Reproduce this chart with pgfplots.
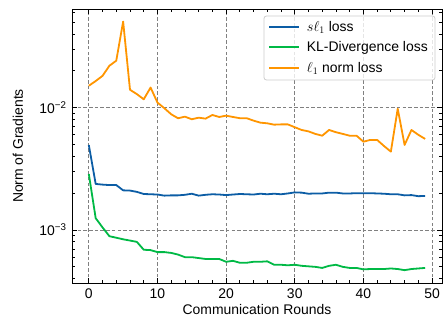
\documentclass[border=0pt]{standalone}
\usepackage{fontspec}
\setmainfont{Liberation Sans}
\usepackage{pgfplots}
\pgfplotsset{compat=1.18}
\usetikzlibrary{calc}
\definecolor{cblue}{HTML}{0C5DA5}
\definecolor{cgreen}{HTML}{00B945}
\definecolor{corange}{HTML}{FF9500}
\begin{document}
\begin{tikzpicture}[font=\fontsize{14}{17}\selectfont]
\begin{axis}[
  scale only axis, width=370bp, height=274bp,
  ymode=log,
  xmin=-2.45, xmax=51.45,
  ymin=3.69e-4, ymax=0.064,
  font=\fontsize{14}{17}\selectfont,
  /pgf/number format/assume math mode=true,
  xtick={0,10,20,30,40,50},
  minor x tick num=4,
  ytick={1e-3,1e-2},
  yticklabels={10\textsuperscript{−3},10\textsuperscript{−2}},
  minor ytick={4e-4,5e-4,6e-4,7e-4,8e-4,9e-4,2e-3,3e-3,4e-3,5e-3,6e-3,7e-3,8e-3,9e-3,2e-2,3e-2,4e-2,5e-2,6e-2},
  tick align=inside,
  major tick length=5.3bp, minor tick length=2.8bp,
  every tick/.style={black, line width=0.8bp},
  axis line style={line width=0.9bp},
  xmajorgrids, ymajorgrids,
  major grid style={gray, line width=0.8bp, dash pattern=on 3.5bp off 2.2bp},
  xlabel={Communication Rounds},
  ylabel={Norm of Gradients},
  xlabel style={at={(axis description cs:0.5,0)}, anchor=center, yshift=-27bp},
  ylabel style={at={(axis description cs:0,0.5)}, anchor=center, yshift=54bp},
  xticklabel style={yshift=-2bp},
  yticklabel style={xshift=-2bp},
  every axis plot/.append style={line width=1.8bp, line join=round},
]
\addplot[draw=cblue] coordinates {
(0,0.00495)(1,0.00238)(2,0.00235)(3,0.00233)(4,0.00233)(5,0.00211)(6,0.00210)(7,0.00205)(8,0.00197)(9,0.00196)
(10,0.00195)(11,0.00191)(12,0.00192)(13,0.00192)(14,0.00194)(15,0.00198)(16,0.00191)(17,0.00194)(18,0.00196)(19,0.00195)
(20,0.00193)(21,0.00195)(22,0.00197)(23,0.00196)(24,0.00195)(25,0.00198)(26,0.00196)(27,0.00198)(28,0.00196)(29,0.00199)
(30,0.00203)(31,0.00202)(32,0.00198)(33,0.00199)(34,0.00199)(35,0.00202)(36,0.00202)(37,0.00199)(38,0.00199)(39,0.00200)
(40,0.00200)(41,0.00200)(42,0.00199)(43,0.00198)(44,0.00196)(45,0.00196)(46,0.00192)(47,0.00193)(48,0.00189)(49,0.00190)
};
\addplot[draw=cgreen] coordinates {
(0,0.00287)(1,0.00125)(2,0.00105)(3,0.00089)(4,0.000865)(5,0.00084)(6,0.00082)(7,0.00080)(8,0.00069)(9,0.000685)
(10,0.00066)(11,0.00066)(12,0.00065)(13,0.00063)(14,0.00060)(15,0.00060)(16,0.00059)(17,0.00058)(18,0.00058)(19,0.00058)
(20,0.00055)(21,0.00056)(22,0.00054)(23,0.00054)(24,0.00055)(25,0.00055)(26,0.000555)(27,0.00052)(28,0.00052)(29,0.000515)
(30,0.00052)(31,0.00051)(32,0.000505)(33,0.00050)(34,0.00049)(35,0.00051)(36,0.00052)(37,0.00050)(38,0.00049)(39,0.00049)
(40,0.000477)(41,0.00048)(42,0.00048)(43,0.00048)(44,0.000485)(45,0.00048)(46,0.00047)(47,0.00048)(48,0.000485)(49,0.00049)
};
\addplot[draw=corange] coordinates {
(0,0.0151)(1,0.0165)(2,0.0182)(3,0.0220)(4,0.0242)(5,0.0505)(6,0.0140)(7,0.0129)(8,0.0117)(9,0.0146)
(10,0.0110)(11,0.0099)(12,0.00883)(13,0.00819)(14,0.00844)(15,0.00804)(16,0.00828)(17,0.00813)(18,0.00871)(19,0.00839)
(20,0.0086)(21,0.00839)(22,0.0082)(23,0.0082)(24,0.00783)(25,0.00754)(26,0.00745)(27,0.00726)(28,0.0073)(29,0.0073)
(30,0.00692)(31,0.00657)(32,0.0064)(33,0.0061)(34,0.0059)(35,0.00657)(36,0.0063)(37,0.0061)(38,0.0059)(39,0.0059)
(40,0.00527)(41,0.00545)(42,0.00545)(43,0.00486)(44,0.00437)(45,0.0098)(46,0.00496)(47,0.00657)(48,0.0060)(49,0.00555)
};
\coordinate (ll) at (rel axis cs:0,0);
\coordinate (ur) at (rel axis cs:1,1);
\end{axis}
% legend
\draw[rounded corners=2.5bp, draw=black!20, line width=0.8bp, fill=white, fill opacity=0.8]
  ($(ur)+(-178bp,-7bp)$) rectangle ($(ur)+(-7bp,-71bp)$);
\foreach \c/\dy/\t in {cblue/17.7/{$s\ell_1$ loss}, cgreen/37.7/{KL-Divergence loss}, corange/58.7/{$\ell_1$ norm loss}}{
  \draw[\c, line width=1.8bp] ($(ur)+(-173bp,-\dy bp)$) -- ($(ur)+(-143bp,-\dy bp)$);
  \node[anchor=base west, inner sep=0pt] at ($(ur)+(-135.3bp,-\dy bp-5bp)$) {\t};
}
\pgfresetboundingbox
\path[use as bounding box] ($(ll)+(-72bp,-40bp)$) rectangle ($(ur)+(1bp,9bp)$);
\end{tikzpicture}
\end{document}
